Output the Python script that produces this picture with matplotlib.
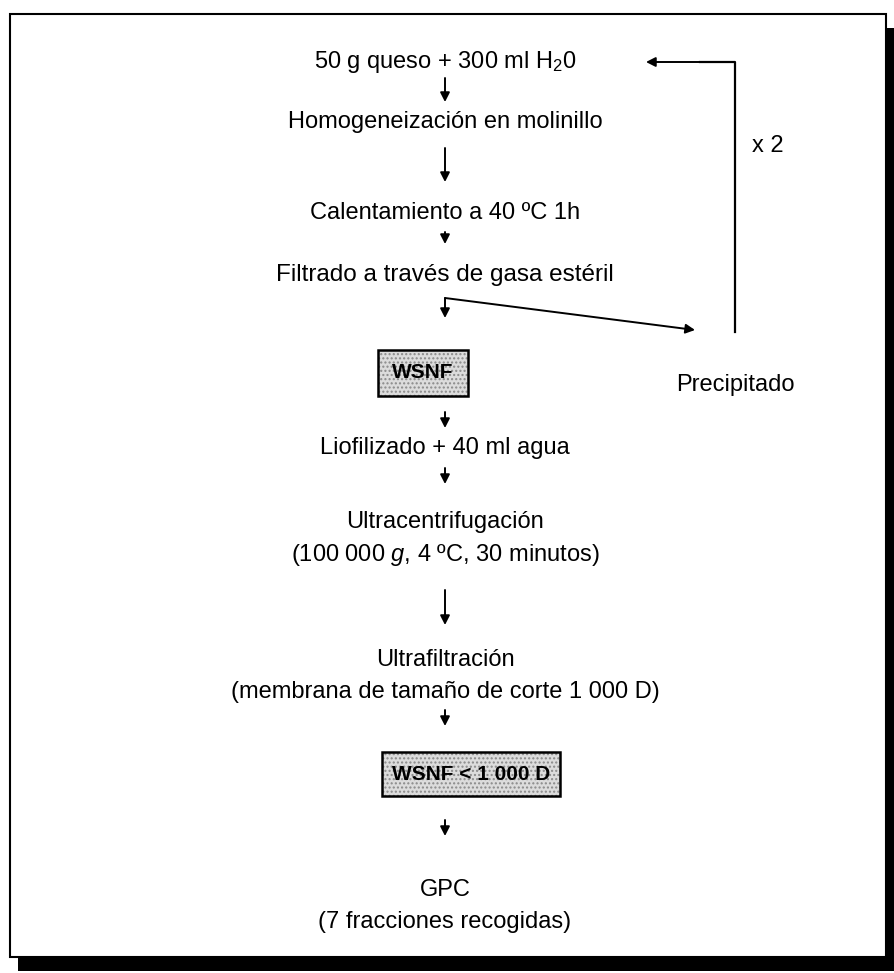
import matplotlib as mpl
mpl.use('Agg')
import matplotlib.pyplot as plt
from matplotlib.patches import Rectangle

plt.rcParams['font.family'] = ['Liberation Sans', 'DejaVu Sans']
plt.rcParams['mathtext.fontset'] = 'custom'
plt.rcParams['mathtext.rm'] = 'Liberation Sans'
plt.rcParams['mathtext.it'] = 'Liberation Sans:italic'

# flowchart steps (text of each node)
steps = [
    r"50 g queso + 300 ml H$_2$0",
    "Homogeneización en molinillo",
    "Calentamiento a 40 ºC 1h",
    "Filtrado a través de gasa estéril",
    "Liofilizado + 40 ml agua",
    "Ultracentrifugación",
    r"(100 000 $\mathit{g}$, 4 ºC, 30 minutos)",
    "Ultrafiltración",
    "(membrana de tamaño de corte 1 000 D)",
    "GPC",
    "(7 fracciones recogidas)",
]
boxes = ["WSNF", "WSNF < 1 000 D"]
side_label = "Precipitado"
loop_label = "x 2"

# layout (pixel coords, y downwards)
cx = 445
step_y = [62, 122, 213, 275, 448, 522, 555, 660, 692, 890, 922]
step_fs = [17, 17, 17, 17.5, 17, 17, 17, 17, 17, 17, 17]
arrows = [(78, 102), (148, 182), (232, 244), (412, 428), (468, 484),
          (590, 625), (710, 726), (820, 836)]

fig = plt.figure(figsize=(8.95, 9.73), dpi=100)
ax = fig.add_axes([0, 0, 1, 1])
ax.set_xlim(0, 895)
ax.set_ylim(973, 0)
ax.axis('off')

# frame with drop shadow
ax.add_patch(Rectangle((10, 14), 876, 943, fill=False, lw=1.5, ec='black'))
ax.add_patch(Rectangle((886, 28), 9, 943, color='black', lw=0))
ax.add_patch(Rectangle((18, 957), 877, 14, color='black', lw=0))

for s, y, fs in zip(steps, step_y, step_fs):
    ax.text(cx, y, s, ha='center', va='center', fontsize=fs)

def arrow(x0, y0, x1, y1):
    ax.annotate('', xy=(x1, y1), xytext=(x0, y0),
                arrowprops=dict(arrowstyle='-|>,head_length=0.55,head_width=0.28',
                                lw=1.4, color='black', shrinkA=0, shrinkB=0))

for y0, y1 in arrows:
    arrow(cx, y0, cx, y1)

# split after filtering
arrow(cx, 298, cx, 318)
arrow(cx, 298, 695, 330)
ax.text(735, 385, side_label, ha='center', va='center', fontsize=17)

# recycle loop
ax.plot([735, 735, 700], [332, 62, 62], color='black', lw=1.6)
arrow(700, 62, 646, 62)
ax.text(752, 146, loop_label, ha='left', va='center', fontsize=17)

# shaded boxes
box_geom = [(378, 350, 90, 46), (382, 752, 178, 44)]
for label, (bx, by, bw, bh) in zip(boxes, box_geom):
    ax.add_patch(Rectangle((bx, by), bw, bh, facecolor='#dcdcdc', edgecolor='#8a8a8a',
                           hatch='....', lw=0))
    ax.add_patch(Rectangle((bx, by), bw, bh, fill=False, edgecolor='black', lw=1.8))
    ax.text(bx + bw / 2, by + bh / 2, label, ha='center', va='center',
            fontsize=15, fontweight='bold')

fig.savefig('out.png', dpi=100)
